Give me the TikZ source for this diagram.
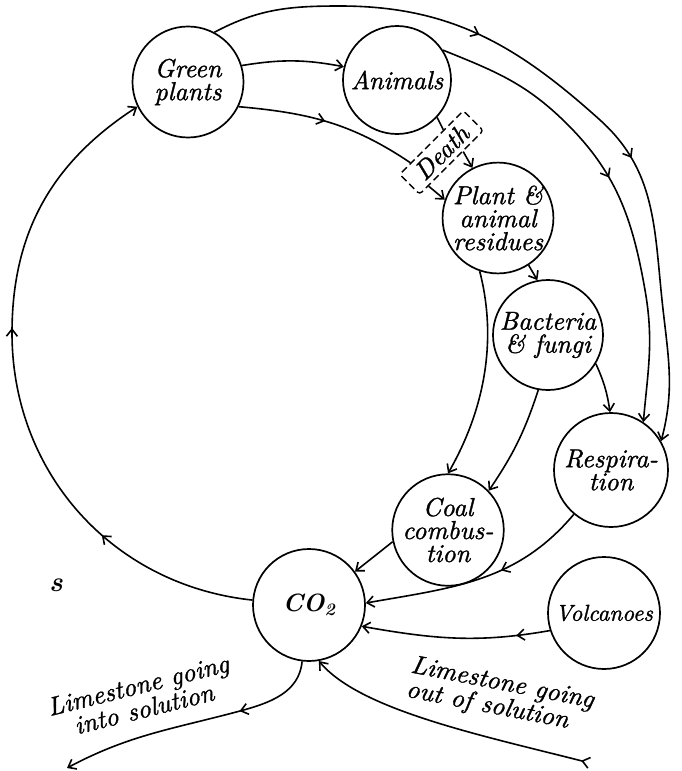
\documentclass[tikz,border=0pt]{standalone}
\usepackage{fontspec}
\usetikzlibrary{arrows.meta,decorations.markings,calc}
\newfontface\scriptit{lmroman10-italic.otf}[FakeBold=1.2]
\newcommand\diagfont{\fontsize{26}{23}\selectfont\scriptit}
\begin{document}
\begin{tikzpicture}[x=1pt,y=-1pt,
  every node/.style={inner sep=0pt},
  >={Straight Barb[length=7pt,width=11pt]},
  circ/.style={draw, circle, line width=1.7pt, font=\diagfont, align=center},
  conn/.style={line width=1.6pt},
  midarrow/.style={postaction={decorate,decoration={markings,mark=at position #1 with {\arrow{>}}}}},
]
\useasboundingbox (0,0) rectangle (682,771);
\fill[white] (0,0) rectangle (682,771);

% nodes
\node[circ, minimum size=111pt] (GP) at (188,82) {Green\\plants};
\node[circ, minimum size=108pt] (AN) at (397,80) {Animals};
\node[circ, minimum size=110pt] (RES) at (498,218) {Plant \&\\animal\\residues};
\node[circ, minimum size=110pt] (BF) at (548,335) {Bacteria\\\& fungi};
\node[circ, minimum size=114pt] (RESP) at (611,470) {Respira-\\tion};
\node[circ, minimum size=110pt] (COAL) at (448,530) {Coal\\combus-\\tion};
\node[circ, minimum size=112pt, font=\fontsize{25}{26}\selectfont\bfseries\itshape] (CO2) at (309,605) {CO\textsubscript{2}};
\node[circ, minimum size=112pt, font=\fontsize{23}{24}\selectfont\scriptit] (VOL) at (604,613) {Volcanoes};

\node[draw, dash pattern=on 7pt off 4pt, rounded corners=3pt, rotate=45,
      minimum width=90pt, minimum height=28pt, line width=1.4pt,
      font=\fontsize{26}{26}\selectfont\scriptit]
      (death) at (441.5,152.5) {Death};

\coordinate (dn1) at ($(death.north)!0.64!(death.north west)$);
\coordinate (dn2) at ($(death.north)!0.38!(death.north east)$);
\coordinate (ds1) at ($(death.south)!0.72!(death.south west)$);
\coordinate (ds2) at ($(death.south)!0.35!(death.south east)$);
\coordinate (L) at (12,333);
\coordinate (lsA) at (67,768);
\coordinate (lsB) at (590,763);

% outer arc: green plants -> respiration
\draw[conn, midarrow=0.36, midarrow=0.62, ->] (GP.62) to[out=28,in=180] (340,6)
  to[out=0,in=138] (600,120) to[out=-42,in=96] (662,300) to[out=-84,in=75] (RESP.30);
% inner arc: animals -> respiration
\draw[conn, midarrow=0.46, ->] (AN.33) to[out=-22,in=136] (563,120)
  to[out=-44,in=100] (645,290) to[out=-80,in=85] (RESP.56);

\draw[conn,->] (GP.17) to[bend left=10] (AN.166);
\draw[conn, midarrow=0.48] (GP.-26) to[out=-5,in=146] (dn1);
\draw[conn] (AN.-43) -- (dn2);
\draw[conn,->] (ds1) -- (RES.161);
\draw[conn,->] (ds2) -- (RES.117);
\draw[conn,->] (RES.-57) -- (BF.101);
\draw[conn,->] (BF.-31) to[bend left=8] (RESP.91);
\draw[conn,->] (RES.-109) .. controls (495,330) and (490,400) .. (COAL.90);
\draw[conn,->] (BF.-100) to[bend left=8] (COAL.44);
\draw[conn,->] (COAL.192) -- (CO2.36);
\draw[conn, midarrow=0.4, ->] (RESP.-130) to[out=-130,in=10] (CO2.2);
\draw[conn, midarrow=0.18, ->] (VOL.198) to[out=190,in=-10] (CO2.-22);

% big cycle back to green plants
\draw[conn, midarrow=0.25, midarrow=0.6, ->] (CO2.175) to[out=174,in=-90] (L)
  to[out=90,in=213] (GP.206);

% limestone
\draw[conn, midarrow=0.32, ->] (CO2.-97) to[out=-95,in=15] (240,711) to[out=195,in=28] (lsA);
\draw[conn, {Straight Barb[reversed,length=7pt,width=11pt]}->] (lsB) .. controls (480,735) and (360,710) .. (CO2.-80);

\node[font=\diagfont, rotate=14, align=center] (lin) at (141,697) {Limestone going\\into solution};
\node[font=\diagfont, rotate=-11, align=left] (lout) at (500,696) {Limestone going\\out of solution};
\node[font=\fontsize{28}{28}\selectfont\bfseries\itshape] (s) at (56,585) {s};
\end{tikzpicture}
\end{document}
